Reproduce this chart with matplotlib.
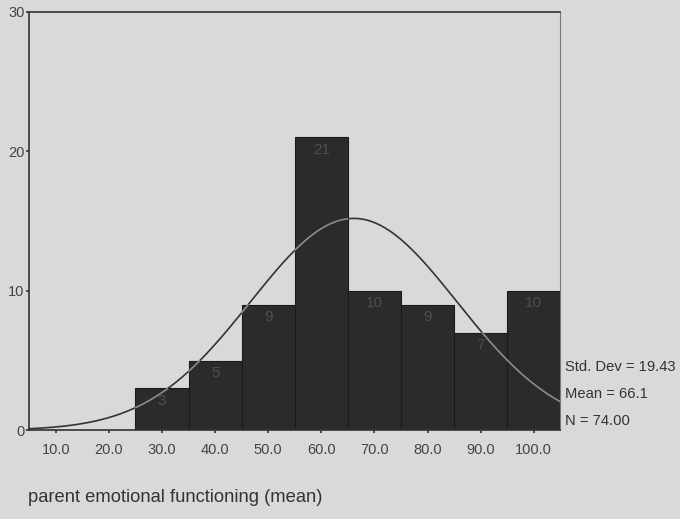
import numpy as np
import matplotlib.pyplot as plt

plt.rcParams['font.family'] = ['Liberation Sans', 'DejaVu Sans']

# Histogram data (bin midpoints and counts)
midpoints = [30.0, 40.0, 50.0, 60.0, 70.0, 80.0, 90.0, 100.0]
counts = [3, 5, 9, 21, 10, 9, 7, 10]
bin_width = 10.0

# Summary stats printed next to the chart
std_dev = 19.43
mean = 66.1
n_total = 74.00

x_ticks = [10.0, 20.0, 30.0, 40.0, 50.0, 60.0, 70.0, 80.0, 90.0, 100.0]
y_ticks = [0, 10, 20, 30]

bg = "#d9d9d7"
fig = plt.figure(figsize=(6.8, 5.19), dpi=100, facecolor=bg)
ax = fig.add_axes([0.043, 0.171, 0.781, 0.806], facecolor=bg)

ax.bar(midpoints, counts, width=bin_width, color="#2b2b2b",
       edgecolor="#1a1a1a", linewidth=0.8, zorder=2)

for xm, c in zip(midpoints, counts):
    ax.text(xm, c - 0.4, str(c), ha="center", va="top", fontsize=11,
            color="#4e4e4e", zorder=3)

# fitted normal curve (SPSS style)
xs = np.linspace(5, 105, 800)
ys = n_total * bin_width / (std_dev * np.sqrt(2 * np.pi)) * np.exp(-0.5 * ((xs - mean) / std_dev) ** 2)
ax.plot(xs, ys, color="#333333", linewidth=1.2, zorder=1.5)

# part of the curve inside the bars shows lighter
for xm, c in zip(midpoints, counts):
    inside = (xs >= xm - bin_width / 2) & (xs <= xm + bin_width / 2) & (ys <= c)
    ax.plot(xs, np.where(inside, ys, np.nan), color="#8c8c8c", linewidth=1.2, zorder=3)

ax.set_xlim(5, 105)
ax.set_ylim(0, 30)
ax.set_xticks(x_ticks)
ax.set_xticklabels([f"{v:.1f}" for v in x_ticks])
ax.set_yticks(y_ticks)
ax.tick_params(axis="both", labelsize=10.5, colors="#333333", length=2.5, width=1.2,
               labelcolor="#444444")
ax.tick_params(axis="x", pad=7)
ax.tick_params(axis="y", pad=1)
for s in ax.spines.values():
    s.set_color("#333333")
    s.set_linewidth(1.2)
ax.spines["right"].set_color("#777777")
ax.spines["right"].set_linewidth(0.8)

fig.text(0.831, 1 - 367 / 519, f"Std. Dev = {std_dev:.2f}", fontsize=10.6,
         color="#333333", va="center")
fig.text(0.831, 1 - 394 / 519, f"Mean = {mean:.1f}", fontsize=10.6,
         color="#333333", va="center")
fig.text(0.831, 1 - 421 / 519, f"N = {n_total:.2f}", fontsize=10.6,
         color="#333333", va="center")

fig.text(0.041, 1 - 497 / 519, "parent emotional functioning (mean)", fontsize=13.2,
         color="#333333", va="center")

fig.savefig("out.png", dpi=100, facecolor=bg)
